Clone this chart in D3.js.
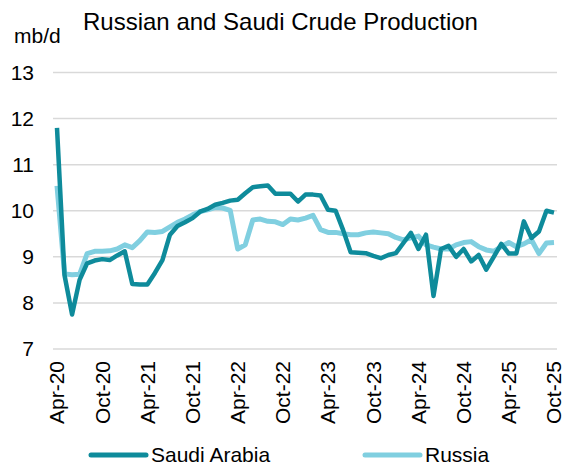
<!DOCTYPE html>
<html>
<head>
<meta charset="utf-8">
<script src="https://cdn.jsdelivr.net/npm/d3@7"></script>
<style>
  body { margin: 0; background: #fff; }
  svg { display: block; font-family: "Liberation Sans", Arial, sans-serif; }
  .grid line { stroke: #d9d9d9; stroke-width: 1.5; }
</style>
</head>
<body>
<svg width="562" height="464"></svg>
<script>
// months Apr-20 .. Oct-25
var months = d3.timeMonth.range(new Date(2020, 3, 1), new Date(2025, 10, 1));
var fmt = d3.timeFormat("%b-%y");
var monthLabels = months.map(fmt);

var saudi = [
  11.8, 8.6, 7.75, 8.5, 8.86, 8.92, 8.95, 8.93, 9.03, 9.12,
  8.41, 8.4, 8.4, 8.65, 8.93, 9.48, 9.67, 9.75, 9.84, 9.98,
  10.04, 10.13, 10.17, 10.22, 10.24, 10.38, 10.51, 10.53, 10.55, 10.37,
  10.37, 10.37, 10.2, 10.35, 10.35, 10.33, 10.02, 10.0, 9.58, 9.1,
  9.09, 9.08, 9.02, 8.97, 9.04, 9.08, 9.3, 9.52, 9.17, 9.48,
  8.15, 9.17, 9.24, 9.0, 9.17, 8.9, 9.04, 8.72, 9.0, 9.28,
  9.07, 9.07, 9.77, 9.41, 9.55, 10.0, 9.96
];

var russia = [
  10.54, 8.63, 8.61, 8.62, 9.07, 9.12, 9.12, 9.13, 9.17, 9.26,
  9.2, 9.35, 9.54, 9.53, 9.55, 9.65, 9.75, 9.82, 9.91, 9.98,
  10.02, 10.07, 10.06, 10.01, 9.17, 9.26, 9.8, 9.82, 9.77, 9.76,
  9.7, 9.82, 9.8, 9.84, 9.9, 9.59, 9.53, 9.53, 9.5, 9.48,
  9.48, 9.52, 9.54, 9.52, 9.5, 9.42, 9.37, 9.41, 9.45, 9.26,
  9.21, 9.17, 9.17, 9.26, 9.31, 9.33, 9.22, 9.15, 9.12, 9.22,
  9.31, 9.22, 9.28, 9.37, 9.07, 9.3, 9.31
];

var yTicks = [7, 8, 9, 10, 11, 12, 13];

var seriesNames = ["Saudi Arabia", "Russia"];
var seriesColors = ["#0e8b9b", "#80cfe0"];

var svg = d3.select("svg");

var x = d3.scalePoint()
  .domain(monthLabels)
  .range([57, 554]);

var y = d3.scaleLinear()
  .domain([7, 13])
  .range([349, 72.5]);

// gridlines
svg.append("g")
    .attr("class", "grid")
  .selectAll("line")
  .data(yTicks)
  .enter().append("line")
    .attr("x1", 53)
    .attr("x2", 557)
    .attr("y1", function(d) { return y(d); })
    .attr("y2", function(d) { return y(d); });

// y labels
svg.append("g")
  .selectAll("text")
  .data(yTicks)
  .enter().append("text")
    .attr("x", 34)
    .attr("y", function(d) { return y(d); })
    .attr("dy", "0.35em")
    .attr("text-anchor", "end")
    .style("font-size", "21px")
    .text(function(d) { return d; });

// x labels, every 6 months
svg.append("g")
  .selectAll("text")
  .data(monthLabels.filter(function(d, i) { return i % 6 === 0; }))
  .enter().append("text")
    .attr("transform", function(d) { return "translate(" + x(d) + ",361) rotate(-90)"; })
    .attr("dy", "0.35em")
    .attr("text-anchor", "end")
    .style("font-size", "21px")
    .text(function(d) { return d; });

var line = d3.line()
  .x(function(d, i) { return x(monthLabels[i]); })
  .y(function(d) { return y(d); });

svg.append("path")
  .datum(russia)
  .attr("fill", "none")
  .attr("stroke", seriesColors[1])
  .attr("stroke-width", 5)
  .attr("stroke-linejoin", "round")
  .attr("d", line);

svg.append("path")
  .datum(saudi)
  .attr("fill", "none")
  .attr("stroke", seriesColors[0])
  .attr("stroke-width", 4.5)
  .attr("stroke-linejoin", "round")
  .attr("d", line);

// titles
svg.append("text")
  .attr("x", 83)
  .attr("y", 30)
  .style("font-size", "24px")
  .text("Russian and Saudi Crude Production");

svg.append("text")
  .attr("x", 14)
  .attr("y", 43)
  .style("font-size", "21px")
  .text("mb/d");

// legend
var legendX = [91, 365];
var legend = svg.selectAll(".legend")
  .data(seriesNames)
  .enter().append("g")
    .attr("class", "legend")
    .attr("transform", function(d, i) { return "translate(" + legendX[i] + ",455)"; });

legend.append("line")
  .attr("x1", 0)
  .attr("x2", 55)
  .attr("stroke", function(d, i) { return seriesColors[i]; })
  .attr("stroke-width", 5)
  .attr("stroke-linecap", "round");

legend.append("text")
  .attr("x", 60)
  .attr("dy", "0.35em")
  .style("font-size", "21px")
  .text(function(d) { return d; });
</script>
</body>
</html>
